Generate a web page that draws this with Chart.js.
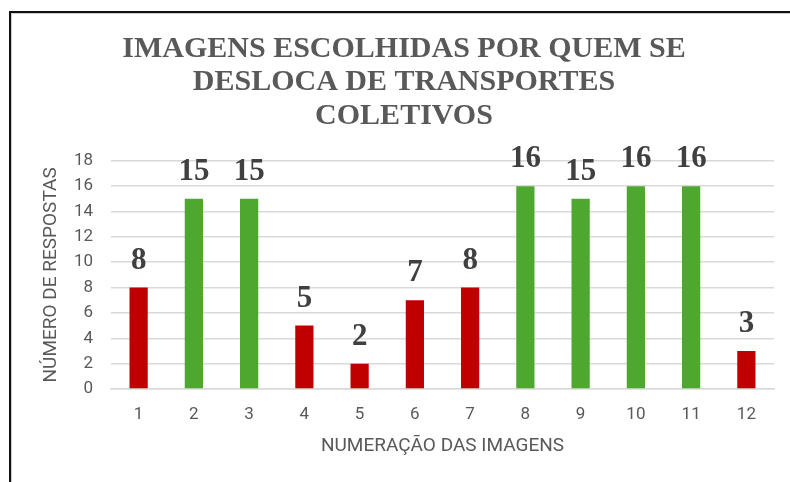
<!DOCTYPE html>
<html>
<head>
<meta charset="utf-8">
<script src="https://cdn.jsdelivr.net/npm/chart.js@4"></script>
<style>
    html, body { margin: 0; padding: 0; background: #fff; }
    #wrap { position: relative; width: 790px; height: 482px; overflow: hidden; }
    #frame {
        position: absolute; left: 9px; top: 11px; width: 820px; height: 520px;
        border-left: 2px solid #111; border-top: 2px solid #111;
        box-shadow: inset 1px 1px 0 #ccc;
    }
</style>
</head>
<body>
<div id="wrap">
    <canvas id="respostasChart" width="790" height="482"></canvas>
    <div id="frame"></div>
</div>
<script>
const imagens = ['1', '2', '3', '4', '5', '6', '7', '8', '9', '10', '11', '12'];
const respostas = [8, 15, 15, 5, 2, 7, 8, 16, 15, 16, 16, 3];
const coresBarras = [
    '#C00000', '#4EA72E', '#4EA72E', '#C00000', '#C00000', '#C00000',
    '#C00000', '#4EA72E', '#4EA72E', '#4EA72E', '#4EA72E', '#C00000'
];
const yTicks = [0, 2, 4, 6, 8, 10, 12, 14, 16, 18];

// draws the value above each bar
const rotulosValores = {
    id: 'rotulosValores',
    afterDatasetsDraw(chart) {
        const ctx = chart.ctx;
        ctx.save();
        ctx.font = 'bold 31px "Liberation Serif", serif';
        ctx.fillStyle = '#404040';
        ctx.textAlign = 'center';
        ctx.textBaseline = 'alphabetic';
        chart.getDatasetMeta(0).data.forEach((bar, i) => {
            ctx.fillText(String(respostas[i]), bar.x, bar.y - 19);
        });
        ctx.restore();
    }
};

const ctx = document.getElementById('respostasChart');
new Chart(ctx, {
    type: 'bar',
    data: {
        labels: imagens,
        datasets: [{
            data: respostas,
            backgroundColor: coresBarras,
            borderWidth: 0,
            barPercentage: 0.33,
            categoryPercentage: 1
        }]
    },
    options: {
        responsive: false,
        animation: false,
        layout: { padding: { left: 34, right: 16, top: 0, bottom: 0 } },
        plugins: {
            legend: { display: false },
            tooltip: { enabled: false },
            title: {
                display: true,
                text: ['IMAGENS ESCOLHIDAS POR QUEM SE', 'DESLOCA DE TRANSPORTES', 'COLETIVOS'],
                color: '#595959',
                font: { family: '"Liberation Serif", serif', size: 30, weight: 'bold', lineHeight: 1.12 },
                padding: { top: 32, bottom: 28 }
            }
        },
        scales: {
            x: {
                grid: { display: false, drawTicks: false },
                border: { display: true, color: '#D9D9D9', width: 1.5 },
                ticks: {
                    color: '#595959',
                    font: { family: 'Roboto', size: 17 },
                    padding: 16
                },
                title: {
                    display: true,
                    text: 'NUMERAÇÃO DAS IMAGENS',
                    color: '#595959',
                    font: { family: 'Roboto', size: 19 },
                    padding: { top: 0, bottom: 24 }
                },
                afterFit(scale) { scale.height = 93; }
            },
            y: {
                min: 0,
                max: 18,
                afterBuildTicks(scale) { scale.ticks = yTicks.map(v => ({ value: v })); },
                grid: { color: '#D9D9D9', lineWidth: 1.5, drawTicks: false },
                border: { display: false },
                ticks: {
                    color: '#595959',
                    font: { family: 'Roboto', size: 17 },
                    padding: 18
                },
                title: {
                    display: true,
                    text: 'NÚMERO DE RESPOSTAS',
                    color: '#595959',
                    font: { family: 'Roboto', size: 19 },
                    padding: { top: 6, bottom: 0 }
                },
                afterFit(scale) { scale.width = 77; }
            }
        }
    },
    plugins: [rotulosValores]
});
</script>
</body>
</html>
